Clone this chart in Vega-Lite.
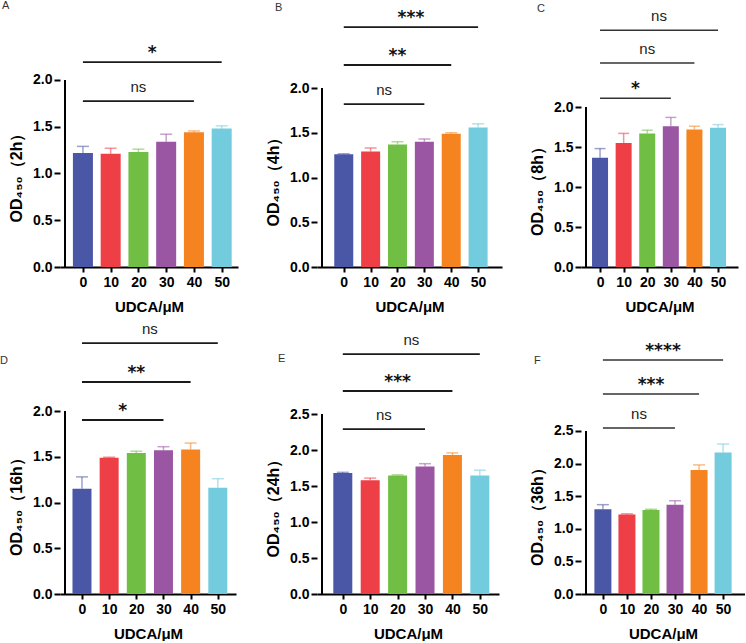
{
  "$schema": "https://vega.github.io/schema/vega-lite/v6.json",
  "padding": {"left": 0, "top": 0, "right": 0, "bottom": 0},
  "config": {
    "view": {"stroke": null},
    "font": "Liberation Sans",
    "axis": {"grid": false, "labelOverlap": false, "labelFont": "Liberation Sans", "labelFontWeight": "bold", "labelFontSize": 14, "labelColor": "#000", "tickColor": "#000", "tickWidth": 2, "domainColor": "#000", "domainWidth": 2, "titleFont": "Liberation Sans", "titleFontWeight": "bold", "titleColor": "#000"},
    "axisX": {"tickSize": 5, "labelPadding": 3, "titleFontSize": 15, "titlePadding": 10, "labelAngle": 0, "tickCount": 10},
    "axisY": {"tickSize": 6, "labelPadding": 2, "domain": false, "titleFontSize": 16, "titlePadding": 8, "format": ".1f", "tickCount": 10},
    "title": {"anchor": "start", "frame": "group", "fontSize": 11, "fontWeight": "normal", "font": "Liberation Sans", "color": "#333", "offset": 0}
  },
  "datasets": {
    "bars": [
      {"panel": "A", "dose": 0, "od": 1.22, "upper": 1.29},
      {"panel": "A", "dose": 10, "od": 1.21, "upper": 1.27},
      {"panel": "A", "dose": 20, "od": 1.23, "upper": 1.26},
      {"panel": "A", "dose": 30, "od": 1.34, "upper": 1.42},
      {"panel": "A", "dose": 40, "od": 1.44, "upper": 1.455},
      {"panel": "A", "dose": 50, "od": 1.48, "upper": 1.51},
      {"panel": "B", "dose": 0, "od": 1.26, "upper": 1.265},
      {"panel": "B", "dose": 10, "od": 1.29, "upper": 1.33},
      {"panel": "B", "dose": 20, "od": 1.37, "upper": 1.4},
      {"panel": "B", "dose": 30, "od": 1.4, "upper": 1.43},
      {"panel": "B", "dose": 40, "od": 1.49, "upper": 1.5},
      {"panel": "B", "dose": 50, "od": 1.56, "upper": 1.6},
      {"panel": "C", "dose": 0, "od": 1.365, "upper": 1.48},
      {"panel": "C", "dose": 10, "od": 1.55, "upper": 1.67},
      {"panel": "C", "dose": 20, "od": 1.67, "upper": 1.71},
      {"panel": "C", "dose": 30, "od": 1.76, "upper": 1.87},
      {"panel": "C", "dose": 40, "od": 1.72, "upper": 1.76},
      {"panel": "C", "dose": 50, "od": 1.74, "upper": 1.78},
      {"panel": "D", "dose": 0, "od": 1.15, "upper": 1.28},
      {"panel": "D", "dose": 10, "od": 1.49, "upper": 1.495},
      {"panel": "D", "dose": 20, "od": 1.54, "upper": 1.56},
      {"panel": "D", "dose": 30, "od": 1.57, "upper": 1.61},
      {"panel": "D", "dose": 40, "od": 1.58, "upper": 1.65},
      {"panel": "D", "dose": 50, "od": 1.16, "upper": 1.26},
      {"panel": "E", "dose": 0, "od": 1.68, "upper": 1.69},
      {"panel": "E", "dose": 10, "od": 1.58, "upper": 1.61},
      {"panel": "E", "dose": 20, "od": 1.645, "upper": 1.655},
      {"panel": "E", "dose": 30, "od": 1.77, "upper": 1.81},
      {"panel": "E", "dose": 40, "od": 1.93, "upper": 1.96},
      {"panel": "E", "dose": 50, "od": 1.645, "upper": 1.72},
      {"panel": "F", "dose": 0, "od": 1.3, "upper": 1.37},
      {"panel": "F", "dose": 10, "od": 1.22, "upper": 1.23},
      {"panel": "F", "dose": 20, "od": 1.29, "upper": 1.3},
      {"panel": "F", "dose": 30, "od": 1.37, "upper": 1.43},
      {"panel": "F", "dose": 40, "od": 1.9, "upper": 1.98},
      {"panel": "F", "dose": 50, "od": 2.17, "upper": 2.3}
    ],
    "sig": [
      {"panel": "A", "from": 0, "to": 50, "level": 2.19, "label": "*"},
      {"panel": "A", "from": 0, "to": 40, "level": 1.775, "label": "ns"},
      {"panel": "B", "from": 0, "to": 50, "level": 2.68, "label": "***"},
      {"panel": "B", "from": 0, "to": 40, "level": 2.257, "label": "**"},
      {"panel": "B", "from": 0, "to": 30, "level": 1.82, "label": "ns"},
      {"panel": "C", "from": 0, "to": 50, "level": 2.96, "label": "ns"},
      {"panel": "C", "from": 0, "to": 40, "level": 2.55, "label": "ns"},
      {"panel": "C", "from": 0, "to": 30, "level": 2.11, "label": "*"},
      {"panel": "D", "from": 0, "to": 50, "level": 2.743, "label": "ns"},
      {"panel": "D", "from": 0, "to": 40, "level": 2.317, "label": "**"},
      {"panel": "D", "from": 0, "to": 30, "level": 1.902, "label": "*"},
      {"panel": "E", "from": 0, "to": 50, "level": 3.333, "label": "ns"},
      {"panel": "E", "from": 0, "to": 40, "level": 2.82, "label": "***"},
      {"panel": "E", "from": 0, "to": 30, "level": 2.29, "label": "ns"},
      {"panel": "F", "from": 0, "to": 50, "level": 3.589, "label": "****"},
      {"panel": "F", "from": 0, "to": 40, "level": 3.067, "label": "***"},
      {"panel": "F", "from": 0, "to": 30, "level": 2.546, "label": "ns"}
    ],
    "axes": [
      {"panel": "A", "bottom": 0, "top": 2.0},
      {"panel": "B", "bottom": 0, "top": 2.0},
      {"panel": "C", "bottom": 0, "top": 2.0},
      {"panel": "D", "bottom": 0, "top": 2.0},
      {"panel": "E", "bottom": 0, "top": 2.5},
      {"panel": "F", "bottom": 0, "top": 2.5}
    ]
  },
  "columns": 3,
  "align": "none",
  "bounds": "flush",
  "spacing": {"row": 54, "column": 79},
  "concat": [
    {
      "width": 178, "height": 252,
      "title": {"text": "A", "dx": -58, "dy": 0},
      "layer": [
        {"data": {"name": "axes"}, "transform": [{"filter": "datum.panel == 'A'"}], "mark": {"type": "rule", "strokeWidth": 2, "color": "#000"},
         "encoding": {"x": {"datum": -6.46, "type": "quantitative"}, "y": {"field": "bottom", "type": "quantitative"}, "y2": {"field": "top"}}},
        {"data": {"name": "bars"}, "transform": [{"filter": "datum.panel == 'A'"}],
         "layer": [
           {"mark": {"type": "bar", "width": 20},
            "encoding": {
              "x": {"field": "dose", "type": "quantitative", "scale": {"domain": [-6.46, 54.08], "nice": false, "zero": false}, "axis": {"values": [0, 10, 20, 30, 40, 50], "tickCount": 10, "labelOverlap": false, "title": "UDCA/μM"}},
              "y": {"field": "od", "type": "quantitative", "scale": {"domain": [0, 2.695], "nice": false}, "axis": {"values": [0, 0.5, 1, 1.5, 2], "tickCount": 10, "labelOverlap": false, "title": "OD₄₅₀（2h）", "titleY": 158.5}},
              "color": {"field": "dose", "type": "nominal", "scale": {"domain": [0, 10, 20, 30, 40, 50], "range": ["#4A56A6", "#EE3E46", "#70BF44", "#9A55A3", "#F5831F", "#72CCDD"]}, "legend": null}}},
           {"mark": {"type": "rule", "strokeWidth": 1.5, "opacity": 0.55},
            "encoding": {"x": {"field": "dose", "type": "quantitative"}, "y": {"field": "od", "type": "quantitative"}, "y2": {"field": "upper"}, "color": {"field": "dose", "type": "nominal", "legend": null}}},
           {"mark": {"type": "tick", "orient": "horizontal", "size": 12, "thickness": 1.5, "opacity": 0.55},
            "encoding": {"x": {"field": "dose", "type": "quantitative"}, "y": {"field": "upper", "type": "quantitative"}, "color": {"field": "dose", "type": "nominal", "legend": null}}}
         ]},
        {"data": {"name": "sig"}, "transform": [{"filter": "datum.panel == 'A'"}, {"calculate": "(datum.from + datum.to) / 2", "as": "mid"}],
         "layer": [
           {"mark": {"type": "rule", "strokeWidth": 1.8, "color": "#1a1a1a"},
            "encoding": {"x": {"field": "from", "type": "quantitative"}, "x2": {"field": "to"}, "y": {"field": "level", "type": "quantitative"}}},
           {"transform": [{"filter": "datum.label == 'ns'"}],
            "mark": {"type": "text", "font": "Liberation Sans", "fontSize": 15, "dy": -9, "baseline": "alphabetic", "color": "#222"},
            "encoding": {"x": {"field": "mid", "type": "quantitative"}, "y": {"field": "level", "type": "quantitative"}, "text": {"field": "label"}}},
           {"transform": [{"filter": "datum.label != 'ns'"}],
            "mark": {"type": "text", "font": "DejaVu Sans", "fontWeight": "bold", "fontSize": 17, "dy": -4, "baseline": "alphabetic", "color": "#111"},
            "encoding": {"x": {"field": "mid", "type": "quantitative"}, "y": {"field": "level", "type": "quantitative"}, "text": {"field": "label"}}}
         ]}
      ]
    },
    {
      "width": 185, "height": 252,
      "title": {"text": "B", "dx": -42, "dy": 7.5},
      "layer": [
        {"data": {"name": "axes"}, "transform": [{"filter": "datum.panel == 'B'"}], "mark": {"type": "rule", "strokeWidth": 2, "color": "#000"},
         "encoding": {"x": {"datum": -8.10, "type": "quantitative"}, "y": {"field": "bottom", "type": "quantitative"}, "y2": {"field": "top"}}},
        {"data": {"name": "bars"}, "transform": [{"filter": "datum.panel == 'B'"}],
         "layer": [
           {"mark": {"type": "bar", "width": 19},
            "encoding": {
              "x": {"field": "dose", "type": "quantitative", "scale": {"domain": [-8.10, 57.04], "nice": false, "zero": false}, "axis": {"values": [0, 10, 20, 30, 40, 50], "tickCount": 10, "labelOverlap": false, "title": "UDCA/μM"}},
              "y": {"field": "od", "type": "quantitative", "scale": {"domain": [0, 2.816], "nice": false}, "axis": {"values": [0, 0.5, 1, 1.5, 2], "tickCount": 10, "labelOverlap": false, "title": "OD₄₅₀（4h）", "titleY": 162.5}},
              "color": {"field": "dose", "type": "nominal", "scale": {"domain": [0, 10, 20, 30, 40, 50], "range": ["#4A56A6", "#EE3E46", "#70BF44", "#9A55A3", "#F5831F", "#72CCDD"]}, "legend": null}}},
           {"mark": {"type": "rule", "strokeWidth": 1.5, "opacity": 0.55},
            "encoding": {"x": {"field": "dose", "type": "quantitative"}, "y": {"field": "od", "type": "quantitative"}, "y2": {"field": "upper"}, "color": {"field": "dose", "type": "nominal", "legend": null}}},
           {"mark": {"type": "tick", "orient": "horizontal", "size": 12, "thickness": 1.5, "opacity": 0.55},
            "encoding": {"x": {"field": "dose", "type": "quantitative"}, "y": {"field": "upper", "type": "quantitative"}, "color": {"field": "dose", "type": "nominal", "legend": null}}}
         ]},
        {"data": {"name": "sig"}, "transform": [{"filter": "datum.panel == 'B'"}, {"calculate": "(datum.from + datum.to) / 2", "as": "mid"}],
         "layer": [
           {"mark": {"type": "rule", "strokeWidth": 1.8, "color": "#1a1a1a"},
            "encoding": {"x": {"field": "from", "type": "quantitative"}, "x2": {"field": "to"}, "y": {"field": "level", "type": "quantitative"}}},
           {"transform": [{"filter": "datum.label == 'ns'"}],
            "mark": {"type": "text", "font": "Liberation Sans", "fontSize": 15, "dy": -9, "baseline": "alphabetic", "color": "#222"},
            "encoding": {"x": {"field": "mid", "type": "quantitative"}, "y": {"field": "level", "type": "quantitative"}, "text": {"field": "label"}}},
           {"transform": [{"filter": "datum.label != 'ns'"}],
            "mark": {"type": "text", "font": "DejaVu Sans", "fontWeight": "bold", "fontSize": 17, "dy": -4, "baseline": "alphabetic", "color": "#111"},
            "encoding": {"x": {"field": "mid", "type": "quantitative"}, "y": {"field": "level", "type": "quantitative"}, "text": {"field": "label"}}}
         ]}
      ]
    },
    {
      "width": 157, "height": 252,
      "title": {"text": "C", "dx": -44, "dy": 9},
      "layer": [
        {"data": {"name": "axes"}, "transform": [{"filter": "datum.panel == 'C'"}], "mark": {"type": "rule", "strokeWidth": 2, "color": "#000"},
         "encoding": {"x": {"datum": -5.95, "type": "quantitative"}, "y": {"field": "bottom", "type": "quantitative"}, "y2": {"field": "top"}}},
        {"data": {"name": "bars"}, "transform": [{"filter": "datum.panel == 'C'"}],
         "layer": [
           {"mark": {"type": "bar", "width": 16},
            "encoding": {
              "x": {"field": "dose", "type": "quantitative", "scale": {"domain": [-5.95, 56.35], "nice": false, "zero": false}, "axis": {"values": [0, 10, 20, 30, 40, 50], "tickCount": 10, "labelOverlap": false, "title": "UDCA/μM"}},
              "y": {"field": "od", "type": "quantitative", "scale": {"domain": [0, 3.15], "nice": false}, "axis": {"values": [0, 0.5, 1, 1.5, 2], "tickCount": 10, "labelOverlap": false, "title": "OD₄₅₀（8h）", "titleY": 172}},
              "color": {"field": "dose", "type": "nominal", "scale": {"domain": [0, 10, 20, 30, 40, 50], "range": ["#4A56A6", "#EE3E46", "#70BF44", "#9A55A3", "#F5831F", "#72CCDD"]}, "legend": null}}},
           {"mark": {"type": "rule", "strokeWidth": 1.5, "opacity": 0.55},
            "encoding": {"x": {"field": "dose", "type": "quantitative"}, "y": {"field": "od", "type": "quantitative"}, "y2": {"field": "upper"}, "color": {"field": "dose", "type": "nominal", "legend": null}}},
           {"mark": {"type": "tick", "orient": "horizontal", "size": 11, "thickness": 1.5, "opacity": 0.55},
            "encoding": {"x": {"field": "dose", "type": "quantitative"}, "y": {"field": "upper", "type": "quantitative"}, "color": {"field": "dose", "type": "nominal", "legend": null}}}
         ]},
        {"data": {"name": "sig"}, "transform": [{"filter": "datum.panel == 'C'"}, {"calculate": "(datum.from + datum.to) / 2", "as": "mid"}],
         "layer": [
           {"mark": {"type": "rule", "strokeWidth": 1.5, "color": "#333"},
            "encoding": {"x": {"field": "from", "type": "quantitative"}, "x2": {"field": "to"}, "y": {"field": "level", "type": "quantitative"}}},
           {"transform": [{"filter": "datum.label == 'ns'"}],
            "mark": {"type": "text", "font": "Liberation Sans", "fontSize": 15, "dy": -9, "baseline": "alphabetic", "color": "#222"},
            "encoding": {"x": {"field": "mid", "type": "quantitative"}, "y": {"field": "level", "type": "quantitative"}, "text": {"field": "label"}}},
           {"transform": [{"filter": "datum.label != 'ns'"}],
            "mark": {"type": "text", "font": "DejaVu Sans", "fontWeight": "bold", "fontSize": 17, "dy": -4, "baseline": "alphabetic", "color": "#111"},
            "encoding": {"x": {"field": "mid", "type": "quantitative"}, "y": {"field": "level", "type": "quantitative"}, "text": {"field": "label"}}}
         ]}
      ]
    },
    {
      "width": 176, "height": 273,
      "title": {"text": "D", "dx": -60, "dy": 48.5},
      "layer": [
        {"data": {"name": "axes"}, "transform": [{"filter": "datum.panel == 'D'"}], "mark": {"type": "rule", "strokeWidth": 2, "color": "#000"},
         "encoding": {"x": {"datum": -6.25, "type": "quantitative"}, "y": {"field": "bottom", "type": "quantitative"}, "y2": {"field": "top"}}},
        {"data": {"name": "bars"}, "transform": [{"filter": "datum.panel == 'D'"}],
         "layer": [
           {"mark": {"type": "bar", "width": 19},
            "encoding": {
              "x": {"field": "dose", "type": "quantitative", "scale": {"domain": [-6.25, 54.86], "nice": false, "zero": false}, "axis": {"values": [0, 10, 20, 30, 40, 50], "tickCount": 10, "labelOverlap": false, "title": "UDCA/μM"}},
              "y": {"field": "od", "type": "quantitative", "scale": {"domain": [0, 2.984], "nice": false}, "axis": {"values": [0, 0.5, 1, 1.5, 2], "tickCount": 10, "labelOverlap": false, "title": "OD₄₅₀（16h）", "titleY": 181.5}},
              "color": {"field": "dose", "type": "nominal", "scale": {"domain": [0, 10, 20, 30, 40, 50], "range": ["#4A56A6", "#EE3E46", "#70BF44", "#9A55A3", "#F5831F", "#72CCDD"]}, "legend": null}}},
           {"mark": {"type": "rule", "strokeWidth": 1.5, "opacity": 0.55},
            "encoding": {"x": {"field": "dose", "type": "quantitative"}, "y": {"field": "od", "type": "quantitative"}, "y2": {"field": "upper"}, "color": {"field": "dose", "type": "nominal", "legend": null}}},
           {"mark": {"type": "tick", "orient": "horizontal", "size": 12, "thickness": 1.5, "opacity": 0.55},
            "encoding": {"x": {"field": "dose", "type": "quantitative"}, "y": {"field": "upper", "type": "quantitative"}, "color": {"field": "dose", "type": "nominal", "legend": null}}}
         ]},
        {"data": {"name": "sig"}, "transform": [{"filter": "datum.panel == 'D'"}, {"calculate": "(datum.from + datum.to) / 2", "as": "mid"}],
         "layer": [
           {"mark": {"type": "rule", "strokeWidth": 1.8, "color": "#1a1a1a"},
            "encoding": {"x": {"field": "from", "type": "quantitative"}, "x2": {"field": "to"}, "y": {"field": "level", "type": "quantitative"}}},
           {"transform": [{"filter": "datum.label == 'ns'"}],
            "mark": {"type": "text", "font": "Liberation Sans", "fontSize": 15, "dy": -9, "baseline": "alphabetic", "color": "#222"},
            "encoding": {"x": {"field": "mid", "type": "quantitative"}, "y": {"field": "level", "type": "quantitative"}, "text": {"field": "label"}}},
           {"transform": [{"filter": "datum.label != 'ns'"}],
            "mark": {"type": "text", "font": "DejaVu Sans", "fontWeight": "bold", "fontSize": 17, "dy": -4, "baseline": "alphabetic", "color": "#111"},
            "encoding": {"x": {"field": "mid", "type": "quantitative"}, "y": {"field": "level", "type": "quantitative"}, "text": {"field": "label"}}}
         ]}
      ]
    },
    {
      "width": 182, "height": 273,
      "title": {"text": "E", "dx": -39, "dy": 46.5},
      "layer": [
        {"data": {"name": "axes"}, "transform": [{"filter": "datum.panel == 'E'"}], "mark": {"type": "rule", "strokeWidth": 2, "color": "#000"},
         "encoding": {"x": {"datum": -7.59, "type": "quantitative"}, "y": {"field": "bottom", "type": "quantitative"}, "y2": {"field": "top"}}},
        {"data": {"name": "bars"}, "transform": [{"filter": "datum.panel == 'E'"}],
         "layer": [
           {"mark": {"type": "bar", "width": 19},
            "encoding": {
              "x": {"field": "dose", "type": "quantitative", "scale": {"domain": [-7.59, 55.17], "nice": false, "zero": false}, "axis": {"values": [0, 10, 20, 30, 40, 50], "tickCount": 10, "labelOverlap": false, "title": "UDCA/μM"}},
              "y": {"field": "od", "type": "quantitative", "scale": {"domain": [0, 3.792], "nice": false}, "axis": {"values": [0, 0.5, 1, 1.5, 2, 2.5], "tickCount": 10, "labelOverlap": false, "title": "OD₄₅₀（24h）", "titleY": 183}},
              "color": {"field": "dose", "type": "nominal", "scale": {"domain": [0, 10, 20, 30, 40, 50], "range": ["#4A56A6", "#EE3E46", "#70BF44", "#9A55A3", "#F5831F", "#72CCDD"]}, "legend": null}}},
           {"mark": {"type": "rule", "strokeWidth": 1.5, "opacity": 0.55},
            "encoding": {"x": {"field": "dose", "type": "quantitative"}, "y": {"field": "od", "type": "quantitative"}, "y2": {"field": "upper"}, "color": {"field": "dose", "type": "nominal", "legend": null}}},
           {"mark": {"type": "tick", "orient": "horizontal", "size": 12, "thickness": 1.5, "opacity": 0.55},
            "encoding": {"x": {"field": "dose", "type": "quantitative"}, "y": {"field": "upper", "type": "quantitative"}, "color": {"field": "dose", "type": "nominal", "legend": null}}}
         ]},
        {"data": {"name": "sig"}, "transform": [{"filter": "datum.panel == 'E'"}, {"calculate": "(datum.from + datum.to) / 2", "as": "mid"}],
         "layer": [
           {"mark": {"type": "rule", "strokeWidth": 1.8, "color": "#1a1a1a"},
            "encoding": {"x": {"field": "from", "type": "quantitative"}, "x2": {"field": "to"}, "y": {"field": "level", "type": "quantitative"}}},
           {"transform": [{"filter": "datum.label == 'ns'"}],
            "mark": {"type": "text", "font": "Liberation Sans", "fontSize": 15, "dy": -9, "baseline": "alphabetic", "color": "#222"},
            "encoding": {"x": {"field": "mid", "type": "quantitative"}, "y": {"field": "level", "type": "quantitative"}, "text": {"field": "label"}}},
           {"transform": [{"filter": "datum.label != 'ns'"}],
            "mark": {"type": "text", "font": "DejaVu Sans", "fontWeight": "bold", "fontSize": 17, "dy": -4, "baseline": "alphabetic", "color": "#111"},
            "encoding": {"x": {"field": "mid", "type": "quantitative"}, "y": {"field": "level", "type": "quantitative"}, "text": {"field": "label"}}}
         ]}
      ]
    },
    {
      "width": 164, "height": 273,
      "title": {"text": "F", "dx": -47, "dy": 49},
      "layer": [
        {"data": {"name": "axes"}, "transform": [{"filter": "datum.panel == 'F'"}], "mark": {"type": "rule", "strokeWidth": 2, "color": "#000"},
         "encoding": {"x": {"datum": -7.03, "type": "quantitative"}, "y": {"field": "bottom", "type": "quantitative"}, "y2": {"field": "top"}}},
        {"data": {"name": "bars"}, "transform": [{"filter": "datum.panel == 'F'"}],
         "layer": [
           {"mark": {"type": "bar", "width": 17},
            "encoding": {
              "x": {"field": "dose", "type": "quantitative", "scale": {"domain": [-7.03, 57.03], "nice": false, "zero": false}, "axis": {"values": [0, 10, 20, 30, 40, 50], "tickCount": 10, "labelOverlap": false, "title": "UDCA/μM"}},
              "y": {"field": "od", "type": "quantitative", "scale": {"domain": [0, 4.187], "nice": false}, "axis": {"values": [0, 0.5, 1, 1.5, 2, 2.5], "tickCount": 10, "labelOverlap": false, "title": "OD₄₅₀（36h）", "titleY": 191.5}},
              "color": {"field": "dose", "type": "nominal", "scale": {"domain": [0, 10, 20, 30, 40, 50], "range": ["#4A56A6", "#EE3E46", "#70BF44", "#9A55A3", "#F5831F", "#72CCDD"]}, "legend": null}}},
           {"mark": {"type": "rule", "strokeWidth": 1.5, "opacity": 0.55},
            "encoding": {"x": {"field": "dose", "type": "quantitative"}, "y": {"field": "od", "type": "quantitative"}, "y2": {"field": "upper"}, "color": {"field": "dose", "type": "nominal", "legend": null}}},
           {"mark": {"type": "tick", "orient": "horizontal", "size": 12, "thickness": 1.5, "opacity": 0.55},
            "encoding": {"x": {"field": "dose", "type": "quantitative"}, "y": {"field": "upper", "type": "quantitative"}, "color": {"field": "dose", "type": "nominal", "legend": null}}}
         ]},
        {"data": {"name": "sig"}, "transform": [{"filter": "datum.panel == 'F'"}, {"calculate": "(datum.from + datum.to) / 2", "as": "mid"}],
         "layer": [
           {"mark": {"type": "rule", "strokeWidth": 1.5, "color": "#333"},
            "encoding": {"x": {"field": "from", "type": "quantitative"}, "x2": {"field": "to"}, "y": {"field": "level", "type": "quantitative"}}},
           {"transform": [{"filter": "datum.label == 'ns'"}],
            "mark": {"type": "text", "font": "Liberation Sans", "fontSize": 15, "dy": -9, "baseline": "alphabetic", "color": "#222"},
            "encoding": {"x": {"field": "mid", "type": "quantitative"}, "y": {"field": "level", "type": "quantitative"}, "text": {"field": "label"}}},
           {"transform": [{"filter": "datum.label != 'ns'"}],
            "mark": {"type": "text", "font": "DejaVu Sans", "fontWeight": "bold", "fontSize": 17, "dy": -4, "baseline": "alphabetic", "color": "#111"},
            "encoding": {"x": {"field": "mid", "type": "quantitative"}, "y": {"field": "level", "type": "quantitative"}, "text": {"field": "label"}}}
         ]}
      ]
    }
  ]
}
